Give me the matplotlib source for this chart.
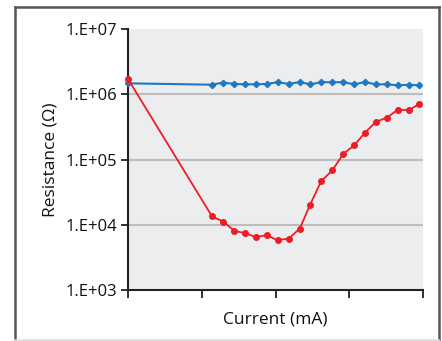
import matplotlib
matplotlib.use("Agg")
import matplotlib.pyplot as plt
from matplotlib.lines import Line2D

plt.rcParams['font.family'] = ['Open Sans', 'DejaVu Sans']

current = [0, 11.4, 12.9, 14.4, 15.9, 17.3, 18.8, 20.3, 21.8, 23.3, 24.7,
           26.2, 27.7, 29.2, 30.7, 32.1, 33.6, 35.1, 36.6, 38.1, 39.5]
red_res = [1.71e6, 1.34e4, 1.12e4, 8.1e3, 7.4e3, 6.5e3, 6.9e3, 5.8e3, 6.15e3,
           8.75e3, 2.04e4, 4.66e4, 6.8e4, 1.22e5, 1.66e5, 2.55e5, 3.77e5,
           4.39e5, 5.8e5, 5.69e5, 7.1e5]
blue_res = [1.47e6, 1.40e6, 1.51e6, 1.44e6, 1.42e6, 1.42e6, 1.44e6, 1.53e6,
            1.44e6, 1.54e6, 1.42e6, 1.53e6, 1.53e6, 1.53e6, 1.42e6, 1.54e6,
            1.42e6, 1.42e6, 1.37e6, 1.40e6, 1.37e6]
yticks = [1e3, 1e4, 1e5, 1e6, 1e7]
ytick_labels = ['1.E+03', '1.E+04', '1.E+05', '1.E+06', '1.E+07']
xticks = [0, 10, 20, 30, 40]

W, H = 442, 341
fig = plt.figure(figsize=(W / 100, H / 100), dpi=100)
fig.patch.set_facecolor('white')

def fx(px):
    return px / W

def fy(py):
    return 1 - py / H

# outer frame: dark left/top/right, light bottom
frame_kw = dict(transform=fig.transFigure, color='#555555', linewidth=1.8)
fig.add_artist(Line2D([fx(15), fx(15)], [fy(340), fy(7)], **frame_kw))
fig.add_artist(Line2D([fx(15), fx(439)], [fy(7), fy(7)], **frame_kw))
fig.add_artist(Line2D([fx(439), fx(439)], [fy(7), fy(340)], **frame_kw))
fig.add_artist(Line2D([fx(15), fx(439)], [fy(340), fy(340)],
                      transform=fig.transFigure, color='#DDDDDD', linewidth=1.2))

ax = fig.add_axes([fx(128), fy(290), (423 - 128) / W, (290 - 29) / H])
ax.set_facecolor('#ECEDEF')
ax.set_yscale('log')
ax.set_ylim(1e3, 1e7)
ax.set_xlim(0, 40)

for v in [1e4, 1e5, 1e6]:
    ax.axhline(v, color='#BDBDBD', linewidth=1.5, zorder=1)

ax.plot(current, blue_res, color='#1F78C1', linewidth=1.5, marker='D',
        markersize=3.2, zorder=3, clip_on=False)
ax.plot(current, red_res, color='#EE1C25', linewidth=1.3, marker='o',
        markersize=4, zorder=4, clip_on=False)

ax.set_yticks(yticks)
ax.set_yticklabels(ytick_labels)
ax.minorticks_off()
ax.set_xticks(xticks)
ax.set_xticklabels([])

for s in ['top', 'right']:
    ax.spines[s].set_visible(False)
for s in ['left', 'bottom']:
    ax.spines[s].set_color('#222222')
    ax.spines[s].set_linewidth(1.5)

ax.tick_params(axis='y', direction='out', length=5, width=1.3,
               color='#222222', labelsize=12, pad=3, labelcolor='#111111')
ax.tick_params(axis='x', direction='out', length=6, width=1.3,
               color='#222222')

ax.set_xlabel('Current (mA)', fontsize=12.5, labelpad=6, color='#111111')
ax.set_ylabel('Resistance (Ω)', fontsize=12.5, labelpad=5, color='#111111')

fig.savefig('out.png', dpi=100)
